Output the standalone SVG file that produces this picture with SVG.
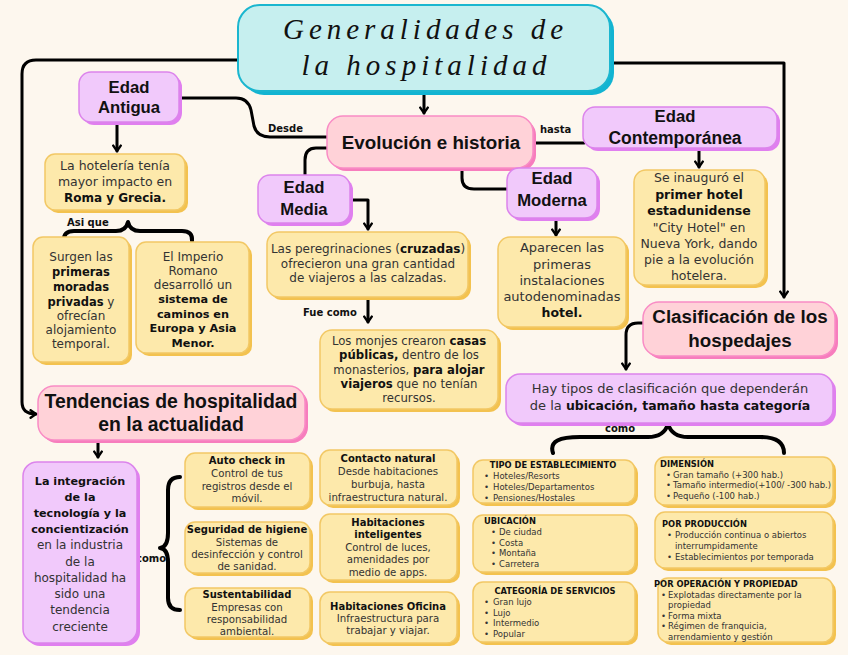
<svg xmlns="http://www.w3.org/2000/svg" width="848" height="655" viewBox="0 0 848 655">
<defs>
<style>
.bgc{fill:#fdf7ee}
.cy{fill:#c6efef;stroke:#1bb6cf;stroke-width:2}
.cys{fill:#12b4d2}
.y{fill:#fde9ab;stroke:#f2c865;stroke-width:1.5}
.ys{fill:#f3c24f}
.p{fill:#f1c9fb;stroke:#dc84ec;stroke-width:1.5}
.ps{fill:#e07fef}
.k{fill:#ffd2d8;stroke:#f98cc5;stroke-width:1.5}
.ks{fill:#f77dbd}
text{font-family:"DejaVu Sans","Open Sans",sans-serif;fill:#333}
.t{font-size:12px;text-anchor:middle}
.b{font-weight:700;fill:#111}
.h{font-family:"Liberation Sans","Open Sans",sans-serif;font-size:16.7px;font-weight:700;text-anchor:middle;fill:#111}
.lab{font-size:10px;font-weight:700;fill:#111}
.s{font-size:10.2px;text-anchor:middle}
.sb{font-size:10px;font-weight:700;fill:#111;text-anchor:middle}
.l{font-size:8.5px}
.lh{font-size:8.3px;font-weight:700;fill:#111}
.ttl{font-family:"Liberation Serif","DejaVu Serif",serif;font-style:italic;font-size:29px;fill:#111;text-anchor:middle}
.c{fill:none;stroke:#000;stroke-width:3;stroke-linecap:round;stroke-linejoin:round}
.br{fill:none;stroke:#000;stroke-width:4;stroke-linecap:round;stroke-linejoin:round}
</style>
<marker id="arr" viewBox="0 0 10 10" refX="7" refY="5" markerWidth="3.6" markerHeight="3.6" orient="auto"><path d="M2,1.5 L7,5 L2,8.5" fill="none" stroke="#000" stroke-width="2.2" stroke-linecap="round" stroke-linejoin="round"/></marker>
</defs>
<rect class="bgc" x="0" y="0" width="848" height="655"/>

<g id="connectors">
<path class="c" d="M238,60 H36 Q22,60 22,74 V402 Q22,414 36,414" marker-end="url(#arr)"/>
<path class="c" d="M612,63 H784 V297" marker-end="url(#arr)"/>
<path class="c" d="M424,93 V113" marker-end="url(#arr)"/>
<path class="c" d="M180,98 H236 Q248,98 251,110 L254,126 Q257,137 270,137 H327"/>
<path class="c" d="M327,148 H316 Q305,148 305,160 V175"/>
<path class="c" d="M533,143 H584"/>
<path class="c" d="M462,168 V178 Q462,189 474,189 H507"/>
<path class="c" d="M117,123 V151" marker-end="url(#arr)"/>
<path class="c" d="M350,200 H368 V229" marker-end="url(#arr)"/>
<path class="c" d="M368,300 V322" marker-end="url(#arr)"/>
<path class="c" d="M556,219 V235" marker-end="url(#arr)"/>
<path class="c" d="M699,150 V167" marker-end="url(#arr)"/>
<path class="c" d="M643,323 H638 Q626,323 626,335 V369" marker-end="url(#arr)"/>
<path class="c" d="M98,442 V457" marker-end="url(#arr)"/>
<path class="br" d="M64,241 Q63,231 74,231 H116 Q126,231 128,222 Q130,231 140,231 H182 Q193,231 192,241"/>
<path class="br" d="M180,477 Q168,477 168,490 V533 Q168,547 160,548 Q168,549 168,562 V598 Q168,610 180,610"/>
<path class="br" d="M553,453 C549,441 560,437 580,437 H648 Q664,437 668,424 Q672,437 688,437 H760 Q784,437 784,453"/>
<text class="lab" x="268" y="132">Desde</text>
<text class="lab" x="540" y="133">hasta</text>
<text class="lab" x="67" y="226">Asi que</text>
<text class="lab" x="303" y="316">Fue como</text>
<text class="lab" x="136" y="562">como</text>
<text class="lab" x="605" y="432">como</text>
</g>

<g id="title">
<rect class="cys" x="242" y="9" width="372" height="86" rx="22"/>
<rect class="cy" x="238" y="5" width="372" height="86" rx="22"/>
<text class="ttl" x="423" y="39" textLength="280" lengthAdjust="spacing">Generalidades de</text>
<text class="ttl" x="424" y="75" textLength="245" lengthAdjust="spacing">la hospitalidad</text>
</g>

<g id="edad-antigua">
<rect class="ps" x="82" y="75" width="100" height="50" rx="12"/>
<rect class="p" x="79" y="72" width="100" height="50" rx="12"/>
<text class="h" x="129" y="93">Edad</text>
<text class="h" x="129" y="113">Antigua</text>
</g>

<g id="evolucion">
<rect class="ks" x="330" y="119" width="206" height="52" rx="16"/>
<rect class="k" x="327" y="116" width="206" height="52" rx="16"/>
<text class="h" x="431" y="149" style="font-size:18.8px">Evolución e historia</text>
</g>

<g id="edad-contemporanea">
<rect class="ps" x="586" y="110" width="194" height="41" rx="12"/>
<rect class="p" x="583" y="107" width="194" height="41" rx="12"/>
<text class="h" x="675" y="122">Edad</text>
<text class="h" x="675" y="144" style="font-size:17.5px">Contemporánea</text>
</g>

<g id="edad-media">
<rect class="ps" x="261" y="178" width="92" height="48" rx="12"/>
<rect class="p" x="258" y="175" width="92" height="48" rx="12"/>
<text class="h" x="304" y="193">Edad</text>
<text class="h" x="304" y="215">Media</text>
</g>

<g id="edad-moderna">
<rect class="ps" x="510" y="171" width="90" height="50" rx="12"/>
<rect class="p" x="507" y="168" width="90" height="50" rx="12"/>
<text class="h" x="552" y="184">Edad</text>
<text class="h" x="552" y="206">Moderna</text>
</g>

<g id="hoteleria">
<rect class="ys" x="48" y="157" width="140" height="56" rx="10"/>
<rect class="y" x="45" y="154" width="140" height="56" rx="10"/>
<text class="t" x="115" y="170" style="font-size:12.5px">La hotelería tenía</text>
<text class="t" x="115" y="186" style="font-size:12.5px">mayor impacto en</text>
<text class="t b" x="115" y="202">Roma y Grecia.</text>
</g>

<g id="surgen">
<rect class="ys" x="36" y="240" width="96" height="125" rx="10"/>
<rect class="y" x="33" y="237" width="96" height="125" rx="10"/>
<text class="t" x="81" y="261">Surgen las</text>
<text class="t b" x="81" y="276" style="font-size:11.5px">primeras</text>
<text class="t b" x="81" y="291" style="font-size:11.5px">moradas</text>
<text class="t" x="81" y="306"><tspan class="b" style="font-size:11.5px">privadas</tspan> y</text>
<text class="t" x="81" y="320">ofrecían</text>
<text class="t" x="81" y="334">alojamiento</text>
<text class="t" x="81" y="348">temporal.</text>
</g>

<g id="imperio">
<rect class="ys" x="139" y="245" width="113" height="111" rx="10"/>
<rect class="y" x="136" y="242" width="113" height="111" rx="10"/>
<text class="t" x="193" y="261">El Imperio</text>
<text class="t" x="193" y="275">Romano</text>
<text class="t" x="193" y="289">desarrolló un</text>
<text class="t b" x="193" y="303" style="font-size:11.3px">sistema de</text>
<text class="t b" x="193" y="318" style="font-size:11.3px">caminos en</text>
<text class="t b" x="193" y="332" style="font-size:11.3px">Europa y Asia</text>
<text class="t b" x="193" y="347" style="font-size:11.3px">Menor.</text>
</g>

<g id="peregrinaciones">
<rect class="ys" x="270" y="235" width="201" height="65" rx="12"/>
<rect class="y" x="267" y="232" width="201" height="65" rx="12"/>
<text class="t" x="368" y="253">Las peregrinaciones (<tspan class="b">cruzadas</tspan>)</text>
<text class="t" x="368" y="268">ofrecieron una gran cantidad</text>
<text class="t" x="368" y="282">de viajeros a las calzadas.</text>
</g>

<g id="monjes">
<rect class="ys" x="323" y="333" width="178" height="79" rx="12"/>
<rect class="y" x="320" y="330" width="178" height="79" rx="12"/>
<text class="t" x="409" y="345" style="font-size:11.7px">Los monjes crearon <tspan class="b">casas</tspan></text>
<text class="t" x="409" y="359" style="font-size:11.7px"><tspan class="b">públicas,</tspan> dentro de los</text>
<text class="t" x="409" y="374" style="font-size:11.7px">monasterios, <tspan class="b">para alojar</tspan></text>
<text class="t" x="409" y="388" style="font-size:11.7px"><tspan class="b">viajeros</tspan> que no tenían</text>
<text class="t" x="409" y="402" style="font-size:11.7px">recursos.</text>
</g>

<g id="aparecen">
<rect class="ys" x="501" y="240" width="128" height="90" rx="12"/>
<rect class="y" x="498" y="237" width="128" height="90" rx="12"/>
<text class="t" x="562" y="252" style="font-size:13px">Aparecen las</text>
<text class="t" x="562" y="269" style="font-size:13px">primeras</text>
<text class="t" x="562" y="285" style="font-size:13px">instalaciones</text>
<text class="t" x="562" y="301" style="font-size:13px">autodenominadas</text>
<text class="t b" x="562" y="317" style="font-size:12.5px">hotel.</text>
</g>

<g id="inauguro">
<rect class="ys" x="637" y="173" width="131" height="115" rx="12"/>
<rect class="y" x="634" y="170" width="131" height="115" rx="12"/>
<text class="t" x="699" y="182" style="font-size:12.5px">Se inauguró el</text>
<text class="t b" x="699" y="199" style="font-size:12.5px">primer hotel</text>
<text class="t b" x="699" y="215" style="font-size:12.5px">estadunidense</text>
<text class="t" x="699" y="232" style="font-size:12.5px">"City Hotel" en</text>
<text class="t" x="699" y="248" style="font-size:12.5px">Nueva York, dando</text>
<text class="t" x="699" y="264" style="font-size:12.5px">pie a la evolución</text>
<text class="t" x="699" y="280" style="font-size:12.5px">hotelera.</text>
</g>

<g id="clasificacion">
<rect class="ks" x="646" y="305" width="192" height="54" rx="16"/>
<rect class="k" x="643" y="302" width="192" height="54" rx="16"/>
<text class="h" x="740" y="323" style="font-size:18.8px">Clasificación de los</text>
<text class="h" x="740" y="347" style="font-size:18.8px">hospedajes</text>
</g>

<g id="hay-tipos">
<rect class="ps" x="509" y="377" width="327" height="49" rx="14"/>
<rect class="p" x="506" y="374" width="327" height="49" rx="14"/>
<text class="t" x="670" y="393" style="font-size:13px">Hay tipos de clasificación que dependerán</text>
<text class="t" x="670" y="410" style="font-size:13px">de la <tspan class="b" style="font-size:12.5px">ubicación, tamaño hasta categoría</tspan></text>
</g>

<g id="tendencias">
<rect class="ks" x="41" y="389" width="267" height="54" rx="16"/>
<rect class="k" x="38" y="386" width="267" height="54" rx="16"/>
<text class="h" x="171" y="408" style="font-size:19.4px">Tendencias de hospitalidad</text>
<text class="h" x="171" y="431" style="font-size:19.4px">en la actualidad</text>
</g>

<g id="integracion">
<rect class="ps" x="26" y="465" width="114" height="181" rx="14"/>
<rect class="p" x="23" y="462" width="114" height="181" rx="14"/>
<text class="t b" x="80" y="485" style="font-size:11.2px">La integración</text>
<text class="t b" x="80" y="501" style="font-size:11.2px">de la</text>
<text class="t b" x="80" y="517" style="font-size:11.2px">tecnología y la</text>
<text class="t b" x="80" y="533" style="font-size:11.2px">concientización</text>
<text class="t" x="80" y="549">en la industria</text>
<text class="t" x="80" y="566">de la</text>
<text class="t" x="80" y="582">hospitalidad ha</text>
<text class="t" x="80" y="598">sido una</text>
<text class="t" x="80" y="614">tendencia</text>
<text class="t" x="80" y="631">creciente</text>
</g>

<g id="auto-check">
<rect class="ys" x="188" y="456" width="125" height="54" rx="10"/>
<rect class="y" x="185" y="453" width="125" height="54" rx="10"/>
<text class="sb" x="247" y="464">Auto check in</text>
<text class="s" x="247" y="477">Control de tus</text>
<text class="s" x="247" y="490">registros desde el</text>
<text class="s" x="247" y="502">móvil.</text>
</g>

<g id="seguridad">
<rect class="ys" x="188" y="525" width="125" height="51" rx="10"/>
<rect class="y" x="185" y="522" width="125" height="51" rx="10"/>
<text class="sb" x="247" y="533">Seguridad de higiene</text>
<text class="s" x="247" y="546">Sistemas de</text>
<text class="s" x="247" y="558">desinfección y control</text>
<text class="s" x="247" y="570">de sanidad.</text>
</g>

<g id="sustentabilidad">
<rect class="ys" x="188" y="591" width="125" height="49" rx="10"/>
<rect class="y" x="185" y="588" width="125" height="49" rx="10"/>
<text class="sb" x="247" y="598">Sustentabilidad</text>
<text class="s" x="247" y="611">Empresas con</text>
<text class="s" x="247" y="623">responsabilidad</text>
<text class="s" x="247" y="635">ambiental.</text>
</g>

<g id="contacto">
<rect class="ys" x="323" y="453" width="137" height="55" rx="10"/>
<rect class="y" x="320" y="450" width="137" height="55" rx="10"/>
<text class="sb" x="388" y="462">Contacto natural</text>
<text class="s" x="388" y="475">Desde habitaciones</text>
<text class="s" x="388" y="488">burbuja, hasta</text>
<text class="s" x="388" y="501">infraestructura natural.</text>
</g>

<g id="inteligentes">
<rect class="ys" x="323" y="517" width="137" height="66" rx="10"/>
<rect class="y" x="320" y="514" width="137" height="66" rx="10"/>
<text class="sb" x="388" y="526">Habitaciones</text>
<text class="sb" x="388" y="538">inteligentes</text>
<text class="s" x="388" y="551">Control de luces,</text>
<text class="s" x="388" y="563">amenidades por</text>
<text class="s" x="388" y="576">medio de apps.</text>
</g>

<g id="oficina">
<rect class="ys" x="323" y="595" width="137" height="51" rx="10"/>
<rect class="y" x="320" y="592" width="137" height="51" rx="10"/>
<text class="sb" x="388" y="610">Habitaciones Oficina</text>
<text class="s" x="388" y="622">Infraestructura para</text>
<text class="s" x="388" y="634">trabajar y viajar.</text>
</g>

<g id="tipo">
<rect class="ys" x="476" y="463" width="162" height="43" rx="10"/>
<rect class="y" x="473" y="460" width="162" height="43" rx="10"/>
<text class="lh" x="553" y="468" text-anchor="middle">TIPO DE ESTABLECIMIENTO</text>
<text class="l" x="484" y="479">•</text><text class="l" x="493" y="479">Hoteles/Resorts</text>
<text class="l" x="484" y="490">•</text><text class="l" x="493" y="490">Hoteles/Departamentos</text>
<text class="l" x="484" y="501">•</text><text class="l" x="493" y="501">Pensiones/Hostales</text>
</g>

<g id="ubicacion">
<rect class="ys" x="476" y="518" width="162" height="57" rx="10"/>
<rect class="y" x="473" y="515" width="162" height="57" rx="10"/>
<text class="lh" x="484" y="524">UBICACIÓN</text>
<text class="l" x="491" y="535">•</text><text class="l" x="499" y="535">De ciudad</text>
<text class="l" x="491" y="545.5">•</text><text class="l" x="499" y="545.5">Costa</text>
<text class="l" x="491" y="556">•</text><text class="l" x="499" y="556">Montaña</text>
<text class="l" x="491" y="566.5">•</text><text class="l" x="499" y="566.5">Carretera</text>
</g>

<g id="categoria">
<rect class="ys" x="476" y="585" width="162" height="60" rx="10"/>
<rect class="y" x="473" y="582" width="162" height="60" rx="10"/>
<text class="lh" x="555" y="594" text-anchor="middle">CATEGORÍA DE SERVICIOS</text>
<text class="l" x="484" y="605">•</text><text class="l" x="493" y="605">Gran lujo</text>
<text class="l" x="484" y="615.5">•</text><text class="l" x="493" y="615.5">Lujo</text>
<text class="l" x="484" y="626">•</text><text class="l" x="493" y="626">Intermedio</text>
<text class="l" x="484" y="636.5">•</text><text class="l" x="493" y="636.5">Popular</text>
</g>

<g id="dimension">
<rect class="ys" x="658" y="460" width="178" height="48" rx="10"/>
<rect class="y" x="655" y="457" width="178" height="48" rx="10"/>
<text class="lh" x="660" y="467">DIMENSIÓN</text>
<text class="l" x="666" y="477.5">•</text><text class="l" x="673" y="477.5">Gran tamaño (+300 hab.)</text>
<text class="l" x="666" y="488">•</text><text class="l" x="673" y="488">Tamaño intermedio(+100/ -300 hab.)</text>
<text class="l" x="666" y="499">•</text><text class="l" x="673" y="499">Pequeño (-100 hab.)</text>
</g>

<g id="produccion">
<rect class="ys" x="658" y="515" width="178" height="56" rx="10"/>
<rect class="y" x="655" y="512" width="178" height="56" rx="10"/>
<text class="lh" x="662" y="527">POR PRODUCCIÓN</text>
<text class="l" x="667" y="538">•</text><text class="l" x="675" y="538">Producción continua o abiertos</text>
<text class="l" x="675" y="549">interrumpidamente</text>
<text class="l" x="667" y="560">•</text><text class="l" x="675" y="560">Establecimientos por temporada</text>
</g>

<g id="operacion">
<rect class="ys" x="661" y="581" width="175" height="64" rx="10"/>
<rect class="y" x="658" y="578" width="175" height="64" rx="10"/>
<text class="lh" x="654" y="587">POR OPERACIÓN Y PROPIEDAD</text>
<text class="l" x="661" y="597.5">•</text><text class="l" x="668" y="597.5">Explotadas directamente por la</text>
<text class="l" x="668" y="608">propiedad</text>
<text class="l" x="661" y="618.5">•</text><text class="l" x="668" y="618.5">Forma mixta</text>
<text class="l" x="661" y="629">•</text><text class="l" x="668" y="629">Régimen de franquicia,</text>
<text class="l" x="668" y="639.5">arrendamiento y gestión</text>
</g>
</svg>
